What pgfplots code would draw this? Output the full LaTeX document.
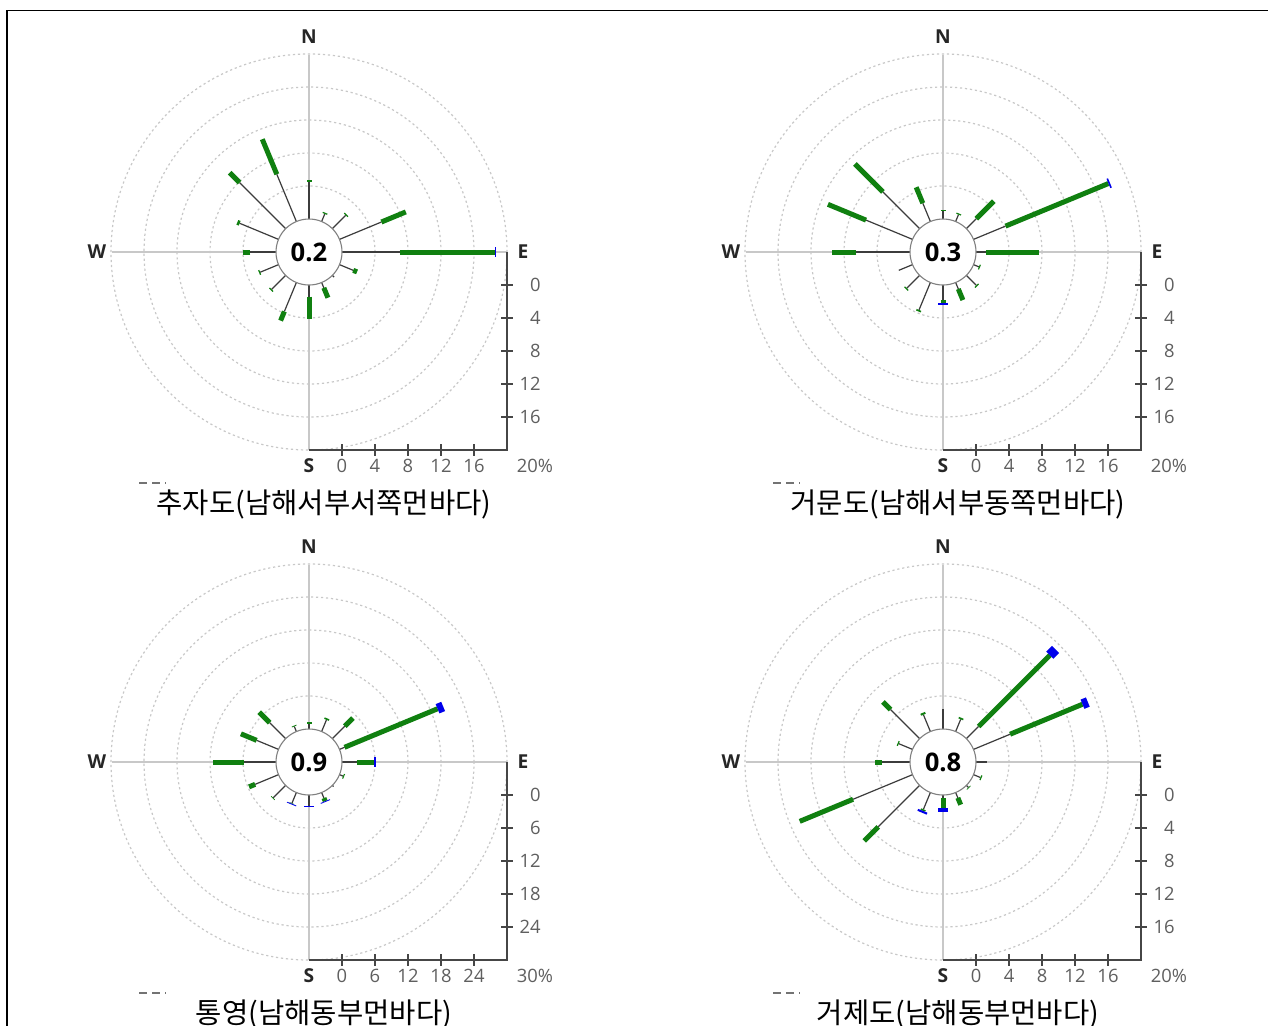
\documentclass[border=0pt]{standalone}
\usepackage{pgfplots}
\pgfplotsset{compat=1.18}
\usepackage{pgfplotstable}
\usepackage{fontspec}
\setmainfont{Open Sans}
\newfontfamily\kr{Noto Sans CJK KR}

\definecolor{rgreen}{RGB}{16,128,16}
\definecolor{rblue}{RGB}{0,0,235}
\definecolor{spkgray}{RGB}{60,60,60}
\definecolor{gridgray}{RGB}{200,200,200}
\definecolor{axgray}{RGB}{70,70,70}
\definecolor{lblgray}{RGB}{95,95,95}

\pgfplotsset{
 spk/.style={no markers, data cs=polar, forget plot},
 blackseg/.style={spk, draw=spkgray, line width=0.6pt},
 greenseg/.style={spk, draw=rgreen, line width=2.5pt},
 blueseg/.style={spk, draw=rblue, line width=5pt},
 roseax/.style={anchor=origin, hide axis, clip=false, xmin=-26, xmax=26, ymin=-26, ymax=26},
}

% dir = compass degrees; a = end of thin class, b = end of green class, c = end of blue class (cumulative %)
\pgfplotstableread{
dir a b c
0 4.5 4.7 4.7
22.5 1.0 1.15 1.15
45 2.3 2.45 2.45
67.5 5.5 8.7 8.7
90 7.0 18.55 18.7
112.5 1.8 2.3 2.3
135 0.3 0.3 0.3
157.5 0.7 2.0 2.0
180 1.4 4.1 4.1
202.5 3.8 5.0 5.0
225 2.4 2.55 2.55
247.5 2.4 2.55 2.55
270 3.1 4.0 4.0
292.5 5.1 5.4 5.4
315 7.9 9.6 9.6
337.5 6.2 10.8 10.8
}\tabA

\pgfplotstableread{
dir a b c
0 1.0 1.15 1.15
22.5 0.9 1.05 1.05
45 1.7 4.7 4.7
67.5 4.2 17.7 17.9
90 1.2 7.6 7.6
112.5 0.7 0.85 0.85
135 1.7 1.85 1.85
157.5 0.85 2.3 2.3
180 1.8 2.15 2.4
202.5 3.6 3.8 3.8
225 2.2 2.35 2.35
247.5 1.8 1.8 1.8
270 6.5 9.5 9.5
292.5 6.1 11.1 11.1
315 6.3 11.1 11.1
337.5 2.4 4.5 4.5
}\tabB

\pgfplotstableread{
dir a b c
0 1.0 1.2 1.2
22.5 2.3 2.6 2.6
45 3.2 5.3 5.3
67.5 1.0 19.3 20.4
90 2.7 5.9 6.15
112.5 0.7 0.9 0.9
135 0.3 0.3 0.3
157.5 1.1 1.7 1.85
180 2.0 2.0 2.15
202.5 2.1 2.2 2.35
225 3.2 3.35 3.35
247.5 4.6 5.8 5.8
270 5.9 11.4 11.4
292.5 4.3 7.4 7.4
315 4.1 6.8 6.8
337.5 1.0 1.15 1.15
}\tabC

\pgfplotstableread{
dir a b c
0 2.4 2.4 2.4
22.5 1.6 1.8 1.8
45 2.1 14.3 15.3
67.5 4.8 14.3 15.0
90 1.3 1.3 1.3
112.5 0.9 1.05 1.05
135 0.35 0.45 0.45
157.5 0.7 1.6 1.6
180 0.4 1.6 2.0
202.5 2.2 2.4 2.65
225 7.1 9.5 9.5
247.5 7.8 14.8 14.8
270 3.4 4.3 4.3
292.5 1.8 1.95 1.95
315 5.0 6.3 6.3
337.5 2.2 2.45 2.45
}\tabD

\newcommand\spokes[2]{%
 \pgfplotsinvokeforeach{0,...,15}{%
  \pgfplotstablegetelem{##1}{dir}\of#1\pgfmathsetmacro\ang{90-\pgfplotsretval}%
  \pgfplotstablegetelem{##1}{a}\of#1\pgfmathsetmacro\ra{\pgfplotsretval+#2}%
  \pgfplotstablegetelem{##1}{b}\of#1\pgfmathsetmacro\rb{\pgfplotsretval+#2}%
  \pgfplotstablegetelem{##1}{c}\of#1\pgfmathsetmacro\rc{\pgfplotsretval+#2}%
  \edef\doplots{%
   \noexpand\addplot[blackseg] coordinates {(\ang,#2) (\ang,\ra)};%
   \noexpand\addplot[greenseg] coordinates {(\ang,\ra) (\ang,\rb)};%
   \noexpand\addplot[blueseg] coordinates {(\ang,\rb) (\ang,\rc)};%
  }\doplots
 }%
}

\newcommand\tickfont{\fontsize{9.2}{10}\selectfont}
\newcommand\dirfont{\bfseries\fontsize{9.6}{10}\selectfont}

% #1 cx, #2 cy, #3 tick labels, #4 max label
\newcommand\panelbg[4]{%
 \begin{scope}[shift={(#1,#2)}]
  \draw[gridgray, line width=0.55pt] (-197,0) -- (198,0) (0,-197) -- (0,198);
  \foreach \r in {66,99,132,165,198}
   \draw[gridgray, line width=0.6pt, dash pattern=on 1.1pt off 1.4pt] (0,0) circle[radius=\r*0.5pt];
  \draw[axgray, line width=0.75pt] (198,0) -- (198,198) -- (0,198);
  \foreach \t [count=\i] in {#3} {
   \draw[axgray, line width=0.6pt] (192,33*\i) -- (204,33*\i);
   \node[anchor=east, text=lblgray, font=\tickfont, inner sep=0pt] at (232,33*\i) {\t};
   \draw[axgray, line width=0.6pt] (33*\i,192) -- (33*\i,204);
   \node[text=lblgray, font=\tickfont, inner sep=0pt] at (33*\i,214) {\t};
  }
  \node[text=lblgray, font=\tickfont, inner sep=0pt] at (226,214) {#4\%};
  \node[font=\dirfont, text=black!85, inner sep=0pt] at (0,-215) {N};
  \node[font=\dirfont, text=black!85, inner sep=0pt] at (0,214) {S};
  \node[font=\dirfont, text=black!85, inner sep=0pt] at (-212,0) {W};
  \node[font=\dirfont, text=black!85, inner sep=0pt] at (214,0) {E};
  \draw[black!55, line width=0.9pt, dash pattern=on 4pt off 2.5pt] (-170,231) -- (-143,231);
 \end{scope}}

% #1 cx, #2 cy, #3 calm, #4 title
\newcommand\panelfg[4]{%
 \begin{scope}[shift={(#1,#2)}]
  \draw[fill=white, draw=black!50, line width=0.55pt] (0,0) circle[radius=16.5pt];
  \node[font=\bfseries\fontsize{12.8}{13}\selectfont, inner sep=0pt] at (0,0) {#3};
  \node[font=\kr\fontsize{14.3}{15}\selectfont, inner sep=0pt] at (15,252) {#4};
 \end{scope}}

\begin{document}
\begin{tikzpicture}[x=0.5pt, y=-0.5pt]
\useasboundingbox (0,0) rectangle (1268,1025);
\fill[white] (0,0) rectangle (1268,1025);

\panelbg{309}{252}{0,4,8,12,16}{20}
\panelbg{943}{252}{0,4,8,12,16}{20}
\panelbg{309}{762}{0,6,12,18,24}{30}
\panelbg{943}{762}{0,4,8,12,16}{20}

\begin{axis}[roseax, at={(154.5pt,-126pt)}, x=4.125pt, y=4.125pt]
\spokes\tabA{4}
\end{axis}
\begin{axis}[roseax, at={(471.5pt,-126pt)}, x=4.125pt, y=4.125pt]
\spokes\tabB{4}
\end{axis}
\begin{axis}[roseax, at={(154.5pt,-381pt)}, x=2.75pt, y=2.75pt, xmin=-36, xmax=36, ymin=-36, ymax=36]
\spokes\tabC{6}
\end{axis}
\begin{axis}[roseax, at={(471.5pt,-381pt)}, x=4.125pt, y=4.125pt]
\spokes\tabD{4}
\end{axis}

\panelfg{309}{252}{0.2}{추자도(남해서부서쪽먼바다)}
\panelfg{943}{252}{0.3}{거문도(남해서부동쪽먼바다)}
\panelfg{309}{762}{0.9}{통영(남해동부먼바다)}
\panelfg{943}{762}{0.8}{거제도(남해동부먼바다)}

\draw[black, line width=0.7pt] (7,1030) -- (7,10.5) -- (1270,10.5);
\end{tikzpicture}
\end{document}
